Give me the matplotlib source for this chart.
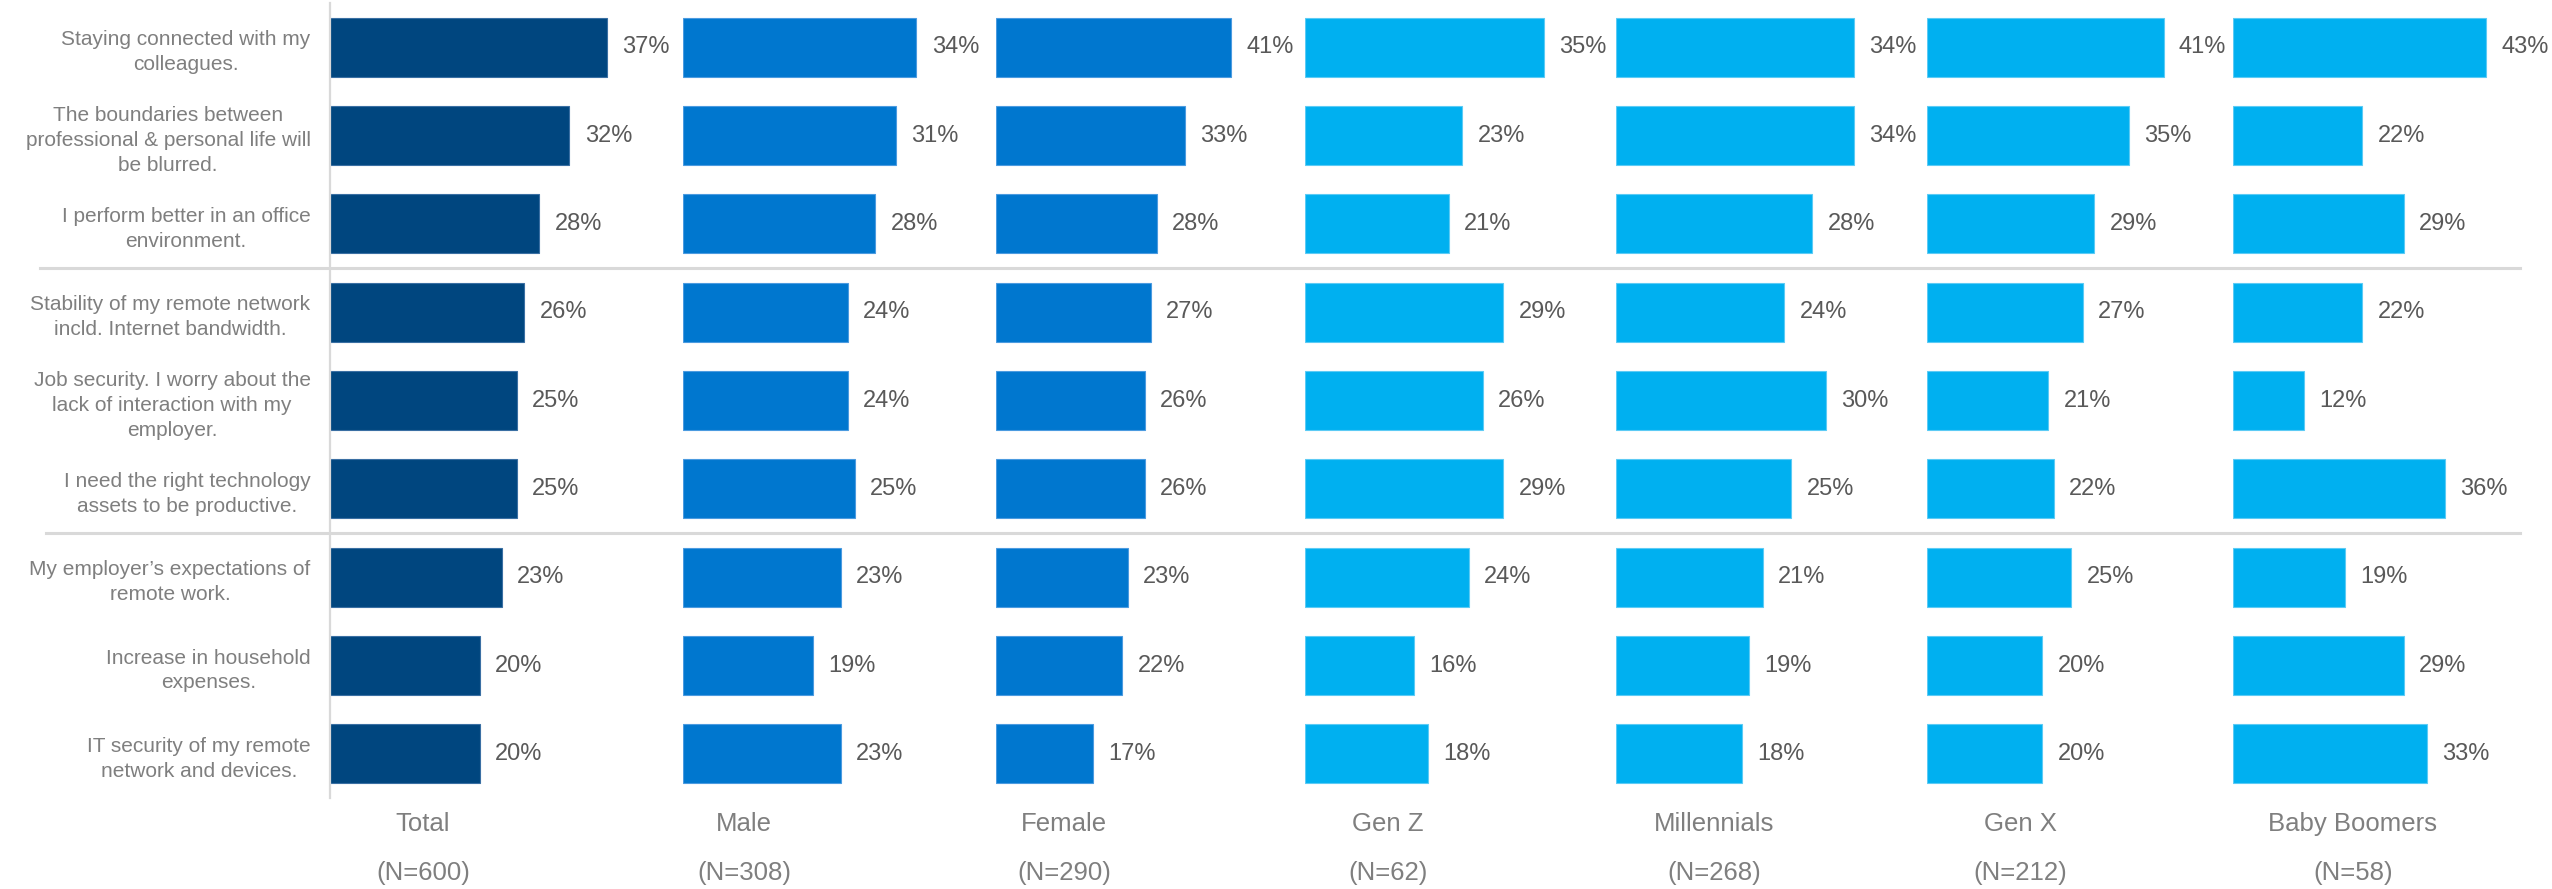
import matplotlib
matplotlib.use("Agg")
import matplotlib.pyplot as plt
from matplotlib.lines import Line2D
from matplotlib.transforms import blended_transform_factory

plt.rcParams["font.family"] = ["Liberation Sans", "DejaVu Sans"]

# ---- data -------------------------------------------------------------
concerns = [
    "Staying connected with my\ncolleagues.",
    "The boundaries between\nprofessional & personal life will\nbe blurred.",
    "I perform better in an office\nenvironment.",
    "Stability of my remote network\nincld. Internet bandwidth.",
    "Job security. I worry about the\nlack of interaction with my\nemployer.",
    "I need the right technology\nassets to be productive.",
    "My employer\u2019s expectations of\nremote work.",
    "Increase in household\nexpenses.",
    "IT security of my remote\nnetwork and devices.",
]

groups = ["Total", "Male", "Female", "Gen Z", "Millennials", "Gen X", "Baby Boomers"]
sample_sizes = ["(N=600)", "(N=308)", "(N=290)", "(N=62)", "(N=268)", "(N=212)", "(N=58)"]

total = [37, 32, 28, 26, 25, 25, 23, 20, 20]
male = [34, 31, 28, 24, 24, 25, 23, 19, 23]
female = [41, 33, 28, 27, 26, 26, 23, 22, 17]
gen_z = [35, 23, 21, 29, 26, 29, 24, 16, 18]
millennials = [34, 34, 28, 24, 30, 25, 21, 19, 18]
gen_x = [41, 35, 29, 27, 21, 22, 25, 20, 20]
baby_boomers = [43, 22, 29, 22, 12, 36, 19, 29, 33]

series = [total, male, female, gen_z, millennials, gen_x, baby_boomers]

# ---- styling / layout -------------------------------------------------
W, H = 2552, 889
DARK = "#00467F"
MID = "#0077CF"
LIGHT = "#00B0F0"
bar_colors = [DARK, MID, MID, LIGHT, LIGHT, LIGHT, LIGHT]
edge_colors = ["#3A6FA3", "#4B9BE0", "#4B9BE0", "#5CCBF5", "#5CCBF5", "#5CCBF5", "#5CCBF5"]
VALUE_COLOR = "#595959"
LABEL_COLOR = "#7F7F7F"
RULE_COLOR = "#D9D9D9"

panel_left = [330, 683, 996, 1305, 1616, 1927, 2233]      # px
panel_width = [353, 313, 309, 311, 311, 306, 319]         # px
axis_max = [47.2, 45.6, 53.9, 45.5, 44.4, 53.0, 54.2]     # per-panel x range
group_label_x = [423, 744, 1064, 1388, 1714, 2020, 2353]  # px

plot_top, plot_bottom = 3, 798

fig = plt.figure(figsize=(W / 100, H / 100), dpi=100)
fig.patch.set_facecolor("white")

axes = []
for i, vals in enumerate(series):
    ax = fig.add_axes([panel_left[i] / W, 1 - plot_bottom / H,
                       panel_width[i] / W, (plot_bottom - plot_top) / H])
    ypos = list(range(len(vals)))
    ax.barh(ypos, vals, height=0.668, color=bar_colors[i],
            edgecolor=edge_colors[i], linewidth=0.8)
    ax.set_xlim(0, axis_max[i])
    ax.set_ylim(len(vals) - 0.5, -0.5)
    ax.set_xticks([])
    for side in ("top", "right", "bottom"):
        ax.spines[side].set_visible(False)
    if i == 0:
        ax.spines["left"].set_color(RULE_COLOR)
        ax.spines["left"].set_linewidth(1.6)
        ax.set_yticks(ypos)
        ax.set_yticklabels(concerns, fontsize=15, color=LABEL_COLOR,
                           linespacing=1.38)
        for lbl in ax.get_yticklabels():
            lbl.set_multialignment("center")
        ax.tick_params(axis="y", length=0, pad=14)
    else:
        ax.spines["left"].set_visible(False)
        ax.set_yticks([])
    for y, v in zip(ypos, vals):
        ax.annotate(f"{v}%", xy=(v, y), xytext=(11, 0),
                    textcoords="offset points", ha="left", va="center",
                    fontsize=17, color=VALUE_COLOR, annotation_clip=False)
    ax.patch.set_alpha(0)
    axes.append(ax)

# horizontal rules separating the three blocks of concerns
trans = blended_transform_factory(fig.transFigure, axes[0].transData)
for y, x0 in ((2.5, 40), (5.5, 46)):
    fig.add_artist(Line2D([x0 / W, 2520 / W], [y, y], transform=trans,
                          color=RULE_COLOR, linewidth=2.2, zorder=0))

# group names and sample sizes under each panel
for name, n, x in zip(groups, sample_sizes, group_label_x):
    fig.text(x / W, 1 - 824 / H, name, ha="center", va="center",
             fontsize=18.5, color=LABEL_COLOR)
    fig.text(x / W, 1 - 873 / H, n, ha="center", va="center",
             fontsize=18.5, color=LABEL_COLOR)

fig.savefig("out.png", dpi=100, facecolor="white")
